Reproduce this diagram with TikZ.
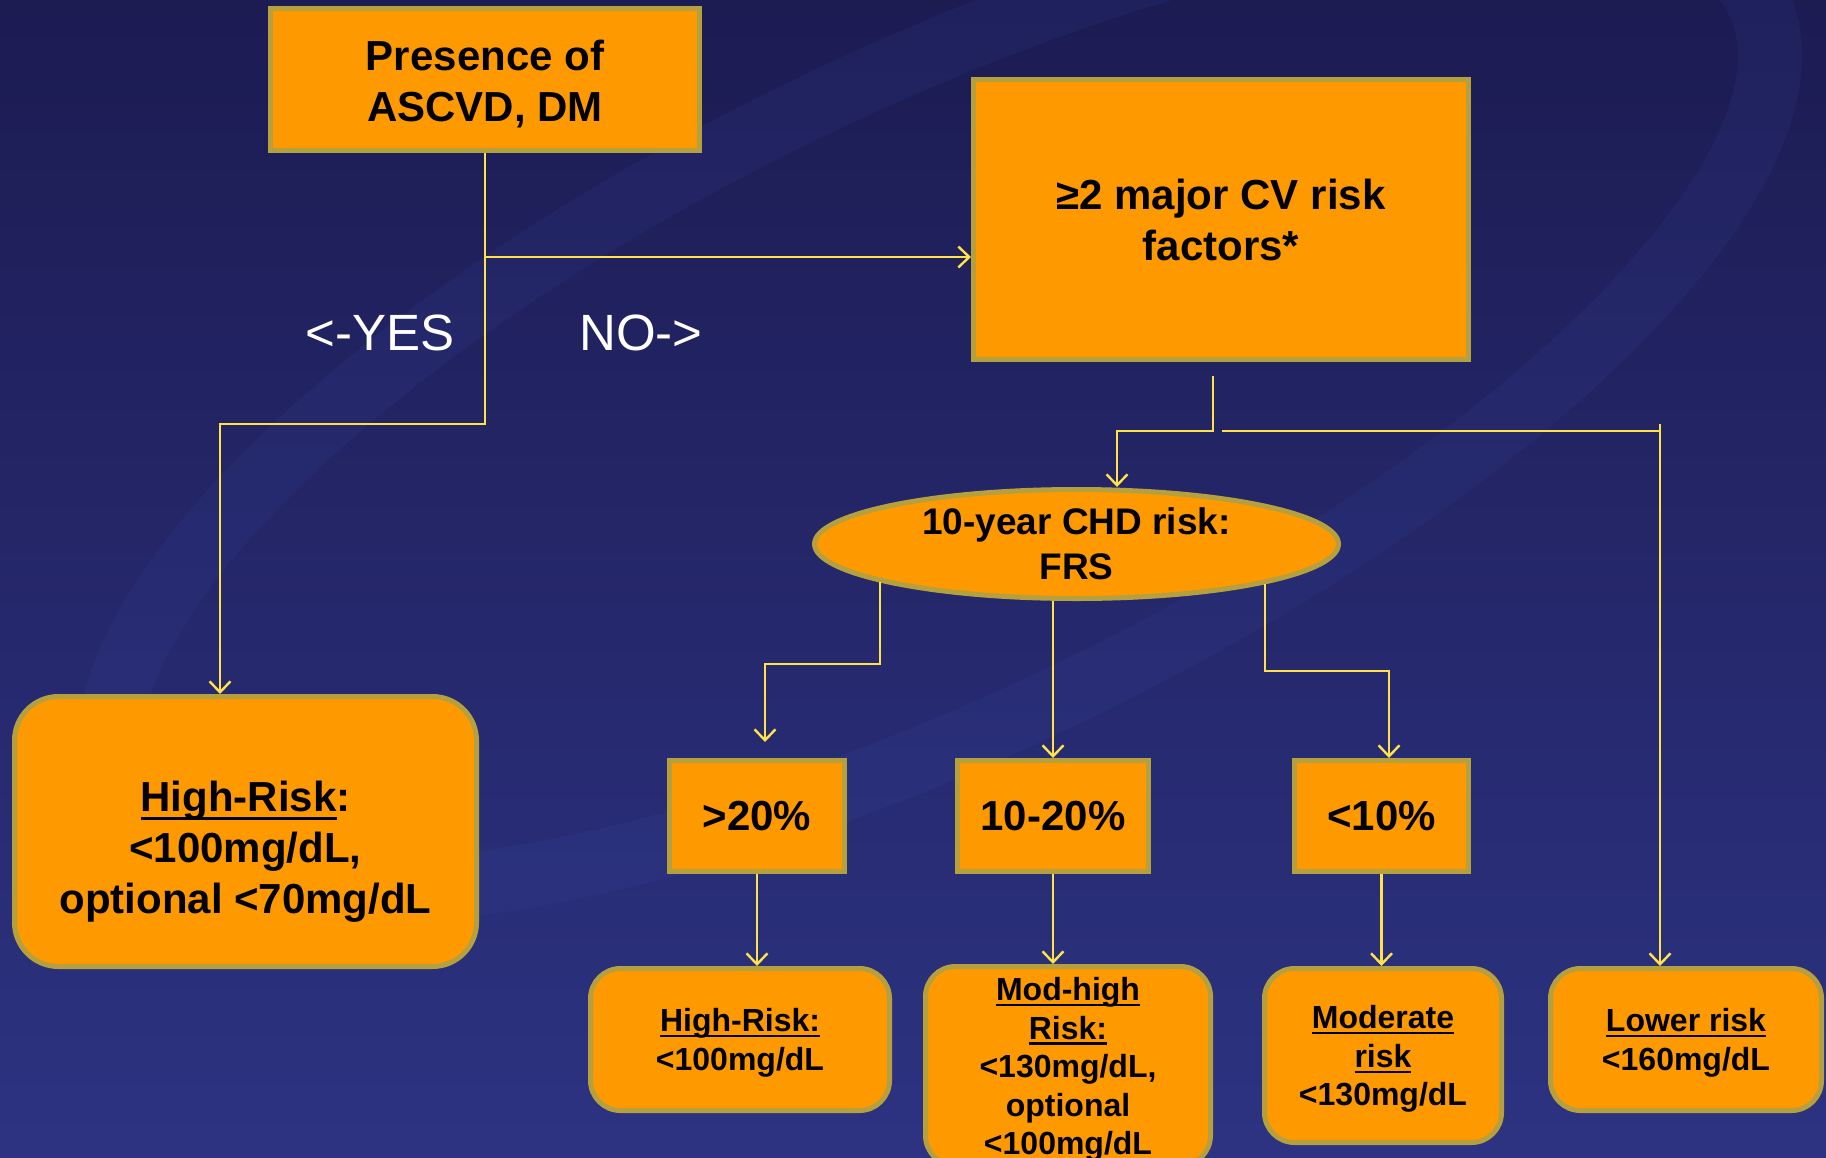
\documentclass[tikz,border=0pt]{standalone}
\usepackage{fontspec}
\setmainfont{Liberation Sans}
\usetikzlibrary{shapes.geometric,arrows.meta,calc}

\definecolor{navytop}{HTML}{1C1B52}
\definecolor{navybot}{HTML}{2D3382}
\definecolor{swooshblue}{HTML}{3A4CA8}
\definecolor{boxorange}{HTML}{FF9900}
\definecolor{boxrim}{HTML}{B5A040}
\definecolor{linkyellow}{HTML}{FFE24A}

% underline with own gap and thickness
\newlength{\ulgap}\setlength{\ulgap}{1.7pt}
\newlength{\ulrule}\setlength{\ulrule}{1.1pt}
\newcommand{\ulbox}[1]{\setbox0\hbox{#1}\rlap{\rule[-\dimexpr\ulgap+\ulrule\relax]{\wd0}{\ulrule}}\box0}

\tikzset{
  box/.style={draw=boxrim, fill=boxorange, line width=2.5pt, inner sep=0pt, align=center,
    text depth=0pt, font=\bfseries\fontsize{21}{25.5}\selectfont},
  roundbox/.style={box, rounded corners=22pt,
    execute at begin node={\setlength{\ulgap}{2.6pt}\setlength{\ulrule}{1.5pt}}},
  goalbox/.style={box, rounded corners=15pt, font=\bfseries\fontsize{16}{19.3}\selectfont},
  oval/.style={box, ellipse, font=\bfseries\fontsize{18.5}{22.5}\selectfont},
  answer/.style={text=white, font=\fontsize{25.5}{30}\selectfont, anchor=base},
  line/.style={draw=linkyellow, line width=1.2pt},
  link/.style={line, -{Straight Barb[length=5.5pt,width=10.5pt]}},
}

\begin{document}
\begin{tikzpicture}[x=0.5pt,y=-0.5pt]
        % Background
        \fill[top color=navytop, bottom color=navybot] (0,0) rectangle (1826,1157);
        \useasboundingbox (0,0) rectangle (1826,1157);
        \begin{scope}
            \clip (0,0) rectangle (1826,1157);
            \draw[swooshblue, opacity=0.13, line width=32pt, rotate around={26:(940,400)}]
                (940,400) ellipse [x radius=455pt, y radius=160pt];
        \end{scope}

        % Question
        \node[box, minimum width=214.5pt, minimum height=71pt] (asc) at (485,79.5) {\rule{0pt}{16pt}Presence of\\ASCVD, DM};
        \node[box, minimum width=247.5pt, minimum height=140pt] (risk) at (1221,219.5) {≥2 major CV risk\\factors*};
        \node[answer] (yes) at (380,350) {<-YES};
        \node[answer] (no) at (641,350) {NO->};

        % High risk branch
        \node[roundbox, minimum width=231pt, minimum height=135pt] (highbig) at (245.5,831.5)
            {\rule{0pt}{31pt}\ulbox{High-Risk}:\\<100mg/dL,\\optional <70mg/dL};

        % FRS and risk levels
        \node[oval, minimum width=262pt, minimum height=54.5pt] (frs) at (1076.5,544) {10-year CHD risk:\\FRS};
        \node[box, minimum width=87.5pt, minimum height=55.5pt] (p20) at (757,816) {>20\%};
        \node[box, minimum width=95.5pt, minimum height=55.5pt] (p1020) at (1053,816) {10-20\%};
        \node[box, minimum width=87pt, minimum height=55.5pt] (p10) at (1381.5,816) {<10\%};

        % Goals
        \node[goalbox, minimum width=149.5pt, minimum height=71pt] (hr) at (740,1039.5) {\ulbox{High-Risk:}\\<100mg/dL};
        \node[goalbox, minimum width=142.5pt, minimum height=99.5pt] (modhigh) at (1068,1066)
            {\ulbox{Mod-high}\\\ulbox{Risk:}\\<130mg/dL,\\optional\\<100mg/dL};
        \node[goalbox, minimum width=118.5pt, minimum height=87pt] (moderate) at (1383,1055.5) {\ulbox{Moderate}\\\ulbox{risk}\\<130mg/dL};
        \node[goalbox, minimum width=135.5pt, minimum height=71pt] (lower) at (1686,1039.5) {\ulbox{Lower risk}\\<160mg/dL};

        % Connectors from the question
        \coordinate (yesbend) at (220,424);
        \coordinate (nosplit) at (485,257);
        \draw[link] (asc.south) |- (yesbend) -- (yesbend |- highbig.north);
        \draw[link] (nosplit) -- (nosplit -| risk.west);

        % Connectors from risk factors
        \coordinate (riskout) at (1213,376);
        \coordinate (frsin) at (1117,431);
        \coordinate (lowsplit) at (1222,431);
        \coordinate (lowturn) at (1660,431);
        \draw[link] (riskout) |- (frsin) -- (frsin |- frs.north);
        \draw[line] (lowsplit) -- (lowturn);
        \draw[link] ($(lowturn)+(0,-7)$) -- (lowturn |- lower.north);

        % Connectors from FRS
        \coordinate (c20) at (765,664);
        \coordinate (c10) at (1389,671);
        \draw[link] (frs.191.7) |- (c20) -- ++(0,78);
        \draw[link] (frs.south -| p1020.north) -- (p1020.north);
        \draw[link] (frs.348.3) |- (c10) -- (c10 |- p10.north);
        \draw[link] (p20.south) -- (p20.south |- hr.north);
        \draw[link] (p1020.south) -- (p1020.south |- modhigh.north);
        \draw[link] (p10.south) -- (p10.south |- moderate.north);

    \end{tikzpicture}
\end{document}
